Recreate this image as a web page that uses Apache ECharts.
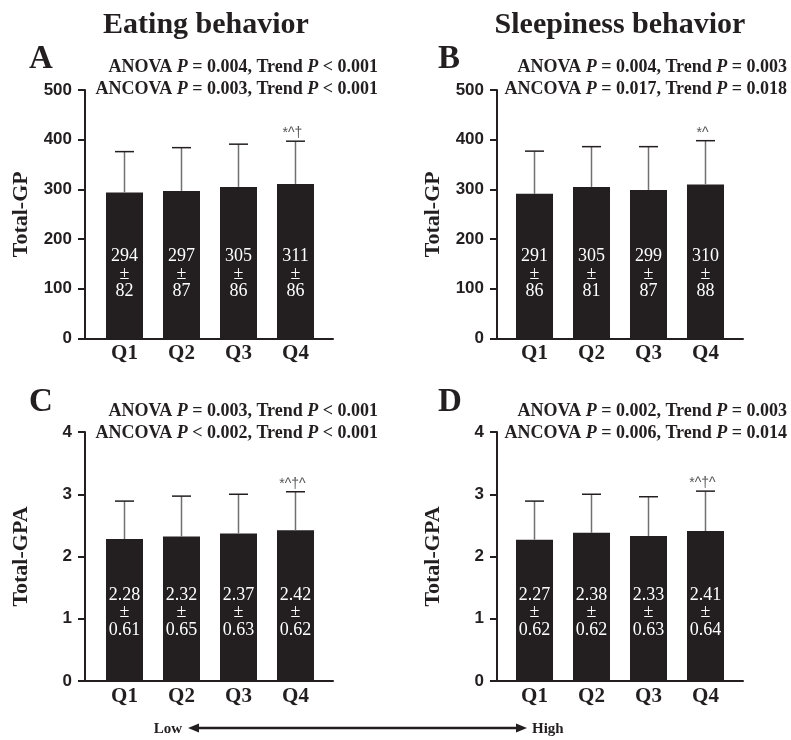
<!DOCTYPE html>
<html><head><meta charset="utf-8">
<script src="https://cdn.jsdelivr.net/npm/echarts@6/dist/echarts.min.js"></script>
<style>html,body{margin:0;padding:0;background:#fff}#c{width:791px;height:740px}</style>
</head><body><div id="c"></div>
<script>
// ---- data ----
const categories = ['Q1', 'Q2', 'Q3', 'Q4'];
const gpTicks = [0, 100, 200, 300, 400, 500];
const gpaTicks = [0, 1, 2, 3, 4];
const eatingGpMean = [294, 297, 305, 311];
const eatingGpSd = [82, 87, 86, 86];
const sleepGpMean = [291, 305, 299, 310];
const sleepGpSd = [86, 81, 87, 88];
const eatingGpaMean = [2.28, 2.32, 2.37, 2.42];
const eatingGpaSd = [0.61, 0.65, 0.63, 0.62];
const sleepGpaMean = [2.27, 2.38, 2.33, 2.41];
const sleepGpaSd = [0.62, 0.62, 0.63, 0.64];
const eatingGpMarks = ['', '', '', '*^\u2020'];
const sleepGpMarks = ['', '', '', '*^'];
const eatingGpaMarks = ['', '', '', '*^\u2020^'];
const sleepGpaMarks = ['', '', '', '*^\u2020^'];
const columnTitles = ['Eating behavior', 'Sleepiness behavior'];
const panelLetters = ['A', 'B', 'C', 'D'];
const statsA = ['ANOVA P = 0.004, Trend P < 0.001', 'ANCOVA P = 0.003, Trend P < 0.001'];
const statsB = ['ANOVA P = 0.004, Trend P = 0.003', 'ANCOVA P = 0.017, Trend P = 0.018'];
const statsC = ['ANOVA P = 0.003, Trend P < 0.001', 'ANCOVA P < 0.002, Trend P < 0.001'];
const statsD = ['ANOVA P = 0.002, Trend P = 0.003', 'ANCOVA P = 0.006, Trend P = 0.014'];
const axisNames = ['Total-GP', 'Total-GPA'];
const arrowLabels = ['Low', 'High'];

// ---- layout ----
const INK = '#231f20';
const panels = [
  { grid: { left: 85, top: 90, width: 248, height: 248.5 }, xmin: -0.693, xmax: 3.658,
    mean: eatingGpMean, sd: eatingGpSd, marks: eatingGpMarks, ticks: gpTicks, name: axisNames[0], dec: 0, dist: 38,
    letter: panelLetters[0], stats: statsA, lx: 29, ly: 59, sx: 378, sy: 67 },
  { grid: { left: 497, top: 90, width: 246, height: 248.5 }, xmin: -0.658, xmax: 3.658,
    mean: sleepGpMean, sd: sleepGpSd, marks: sleepGpMarks, ticks: gpTicks, name: axisNames[0], dec: 0, dist: 38,
    letter: panelLetters[1], stats: statsB, lx: 438, ly: 59, sx: 787, sy: 67 },
  { grid: { left: 85, top: 432, width: 248, height: 249 }, xmin: -0.693, xmax: 3.658,
    mean: eatingGpaMean, sd: eatingGpaSd, marks: eatingGpaMarks, ticks: gpaTicks, name: axisNames[1], dec: 2, dist: 42,
    letter: panelLetters[2], stats: statsC, lx: 29, ly: 402, sx: 378, sy: 411 },
  { grid: { left: 497, top: 432, width: 246, height: 249 }, xmin: -0.658, xmax: 3.658,
    mean: sleepGpaMean, sd: sleepGpaSd, marks: sleepGpaMarks, ticks: gpaTicks, name: axisNames[1], dec: 2, dist: 42,
    letter: panelLetters[3], stats: statsD, lx: 438, ly: 402, sx: 787, sy: 411 }
];

function richStat(s) {
  return '{b|' + s.replace(/\bP\b/g, '}{i|P}{b|') + '}';
}
const statRich = {
  b: { fontFamily: 'Liberation Serif', fontWeight: 'bold', fontSize: 18, fill: INK },
  i: { fontFamily: 'Liberation Serif', fontWeight: 'bold', fontStyle: 'italic', fontSize: 18, fill: INK }
};

function errRenderer(marks) {
  return function (params, api) {
    const i = api.value(0), m = api.value(1), s = api.value(2);
    const base = api.coord([i, m]);
    const top = api.coord([i, m + s]);
    const hw = 9.5;
    const children = [
      { type: 'line', shape: { x1: base[0], y1: base[1], x2: top[0], y2: top[1] }, style: { stroke: '#707070', lineWidth: 1.5 } },
      { type: 'line', shape: { x1: top[0] - hw, y1: top[1], x2: top[0] + hw, y2: top[1] }, style: { stroke: INK, lineWidth: 1.5 } }
    ];
    if (marks[i]) {
      children.push({ type: 'text', x: top[0] - 3, y: top[1] - 1,
        style: { text: marks[i], fill: '#555', font: '14px "Liberation Sans"', align: 'center', verticalAlign: 'bottom' } });
    }
    return { type: 'group', children };
  };
}

const grid = [], xAxis = [], yAxis = [], series = [], graphic = [];
panels.forEach((p, k) => {
  grid.push(p.grid);
  xAxis.push({
    type: 'value', gridIndex: k, min: p.xmin, max: p.xmax,
    axisLine: { show: true, onZero: false, lineStyle: { color: INK, width: 2 } },
    axisTick: { show: false }, splitLine: { show: false },
    axisLabel: { customValues: [0, 1, 2, 3], formatter: v => categories[Math.round(v)] || '',
      fontFamily: 'Liberation Serif', fontWeight: 'bold', fontSize: 21, color: INK, margin: 5 }
  });
  yAxis.push({
    type: 'value', gridIndex: k, min: p.ticks[0], max: p.ticks[p.ticks.length - 1], interval: p.ticks[1] - p.ticks[0],
    axisLine: { show: true, onZero: false, lineStyle: { color: INK, width: 2 } },
    axisTick: { show: true, length: 7, lineStyle: { color: INK, width: 2 } },
    splitLine: { show: false },
    axisLabel: { fontFamily: 'Liberation Sans', fontWeight: 'bold', fontSize: 17, color: INK, margin: 13 },
    name: p.name, nameLocation: 'middle', nameGap: 53,
    nameTextStyle: { fontFamily: 'Liberation Serif', fontWeight: 'bold', fontSize: 22, color: INK }
  });
  series.push({
    type: 'bar', xAxisIndex: k, yAxisIndex: k, barWidth: 37,
    data: p.mean.map((m, i) => [i, m]),
    itemStyle: { color: INK },
    label: { show: true, position: 'insideBottom', distance: p.dist, color: '#fff',
      fontFamily: 'Liberation Serif', fontSize: 18, lineHeight: 17.5,
      formatter: q => p.mean[q.dataIndex].toFixed(p.dec) + '\n\u00b1\n' + p.sd[q.dataIndex].toFixed(p.dec) }
  });
  series.push({
    type: 'custom', xAxisIndex: k, yAxisIndex: k,
    data: p.mean.map((m, i) => [i, m, p.sd[i]]),
    encode: { x: 0, y: 1 },
    renderItem: errRenderer(p.marks), z: 3
  });
  graphic.push({ type: 'text', x: p.lx, y: p.ly,
    style: { text: p.letter, font: 'bold 33px "Liberation Serif"', fill: INK, align: 'left', verticalAlign: 'middle' } });
  p.stats.forEach((s, j) => {
    graphic.push({ type: 'text', x: p.sx, y: p.sy + j * 22,
      style: { text: richStat(s), rich: statRich, align: 'right', verticalAlign: 'middle' } });
  });
});
graphic.push({ type: 'text', x: 206, y: 25,
  style: { text: columnTitles[0], font: 'bold 30px "Liberation Serif"', fill: INK, align: 'center', verticalAlign: 'middle' } });
graphic.push({ type: 'text', x: 620, y: 25,
  style: { text: columnTitles[1], font: 'bold 30px "Liberation Serif"', fill: INK, align: 'center', verticalAlign: 'middle' } });
// bottom arrow
graphic.push({ type: 'line', shape: { x1: 196, y1: 728, x2: 520, y2: 728 }, style: { stroke: INK, lineWidth: 2.5 } });
graphic.push({ type: 'polygon', shape: { points: [[188, 728], [199, 723.5], [199, 732.5]] }, style: { fill: INK } });
graphic.push({ type: 'polygon', shape: { points: [[527, 728], [516, 723.5], [516, 732.5]] }, style: { fill: INK } });
graphic.push({ type: 'text', x: 182, y: 729,
  style: { text: arrowLabels[0], font: 'bold 15px "Liberation Serif"', fill: INK, align: 'right', verticalAlign: 'middle' } });
graphic.push({ type: 'text', x: 532, y: 729,
  style: { text: arrowLabels[1], font: 'bold 15px "Liberation Serif"', fill: INK, align: 'left', verticalAlign: 'middle' } });

const chart = echarts.init(document.getElementById('c'), null, { renderer: 'canvas' });
chart.setOption({ animation: false, backgroundColor: '#fff', grid, xAxis, yAxis, series, graphic });
</script></body></html>
